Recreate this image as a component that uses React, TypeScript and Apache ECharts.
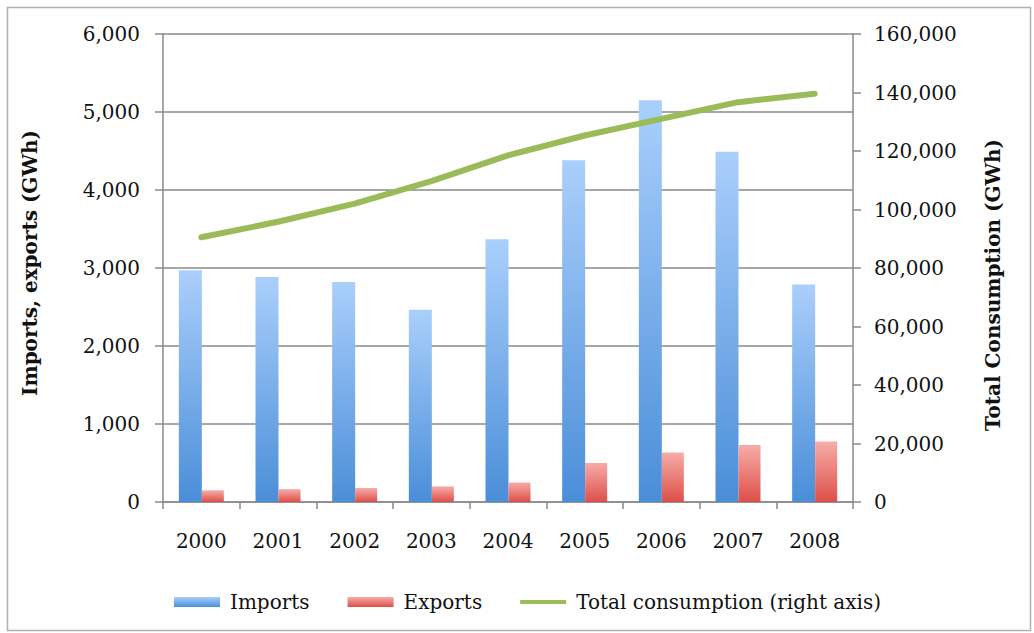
import React, { useEffect, useRef } from "react";
import * as echarts from "echarts";

const years = ["2000", "2001", "2002", "2003", "2004", "2005", "2006", "2007", "2008"];
const imports = [2970, 2885, 2820, 2465, 3370, 4380, 5150, 4490, 2790];
const exports_ = [150, 165, 180, 200, 250, 500, 635, 730, 775];
const totalConsumption = [90500, 95800, 102000, 109700, 118500, 125300, 131000, 136700, 139600];

const FONT = "DejaVu Serif";

export default function App() {
  const ref = useRef<HTMLDivElement>(null);
  useEffect(() => {
    document.body.style.margin = "0";
    const chart = echarts.init(ref.current!, null, { renderer: "svg" });
    const axisGray = "#8a8a8a";
    chart.setOption({
      animation: false,
      backgroundColor: "#ffffff",
      textStyle: { fontFamily: FONT },
      grid: { left: 163, right: 181, top: 34, bottom: 131, containLabel: false },
      legend: {
        bottom: 16,
        left: 169,
        itemWidth: 46,
        itemHeight: 10,
        itemGap: 38,
        textStyle: { fontFamily: FONT, fontSize: 20, color: "#111", padding: [0, 0, 0, 5] },
        data: [
          { name: "Imports", icon: "rect" },
          { name: "Exports", icon: "rect" },
          { name: "Total consumption (right axis)", icon: "path://M0,0 L46,0 L46,4 L0,4 Z" },
        ],
      },
      graphic: [
        {
          type: "rect",
          shape: { x: 7.5, y: 7.5, width: 1023, height: 623 },
          style: { fill: "none", stroke: "#b0b0b0", lineWidth: 1.5 },
          silent: true,
        },
        {
          type: "text",
          x: 30,
          y: 263,
          rotation: Math.PI / 2,
          style: {
            text: "Imports, exports (GWh)",
            fontFamily: FONT,
            fontWeight: "bold",
            fontSize: 20,
            fill: "#111",
            align: "center",
            verticalAlign: "middle",
          },
        },
        {
          type: "text",
          x: 993,
          y: 285,
          rotation: Math.PI / 2,
          style: {
            text: "Total Consumption (GWh)",
            fontFamily: FONT,
            fontWeight: "bold",
            fontSize: 20,
            fill: "#111",
            align: "center",
            verticalAlign: "middle",
          },
        },
      ],
      xAxis: {
        type: "category",
        data: years,
        boundaryGap: true,
        axisLine: { lineStyle: { color: axisGray, width: 1.5 } },
        axisTick: { show: true, length: 7, lineStyle: { color: axisGray, width: 1.5 } },
        axisLabel: { fontFamily: FONT, fontSize: 20, color: "#111", margin: 29 },
      },
      yAxis: [
        {
          type: "value",
          min: 0,
          max: 6000,
          interval: 1000,
          axisLine: { show: true, lineStyle: { color: axisGray, width: 1.5 } },
          axisTick: { show: true, length: 8, lineStyle: { color: axisGray, width: 1.5 } },
          splitLine: { show: true, lineStyle: { color: axisGray, width: 1.5 } },
          axisLabel: {
            fontFamily: FONT,
            fontSize: 20,
            color: "#111",
            margin: 23,
            formatter: (v: number) => v.toLocaleString("en-US"),
          },
        },
        {
          type: "value",
          min: 0,
          max: 160000,
          interval: 20000,
          position: "right",
          axisLine: { show: true, lineStyle: { color: axisGray, width: 1.5 } },
          axisTick: { show: true, length: 8, lineStyle: { color: axisGray, width: 1.5 } },
          splitLine: { show: false },
          axisLabel: {
            fontFamily: FONT,
            fontSize: 20,
            color: "#111",
            margin: 21,
            formatter: (v: number) => v.toLocaleString("en-US"),
          },
        },
      ],
      series: [
        {
          name: "Imports",
          type: "bar",
          data: imports,
          barWidth: 23,
          barGap: "0%",
          itemStyle: {
            color: new echarts.graphic.LinearGradient(0, 0, 0, 1, [
              { offset: 0, color: "#aacffc" },
              { offset: 1, color: "#4a8ed8" },
            ]),
          },
        },
        {
          name: "Exports",
          type: "bar",
          data: exports_,
          barWidth: 22,
          itemStyle: {
            color: new echarts.graphic.LinearGradient(0, 0, 0, 1, [
              { offset: 0, color: "#f7aca8" },
              { offset: 1, color: "#dd4f49" },
            ]),
          },
        },
        {
          name: "Total consumption (right axis)",
          type: "line",
          yAxisIndex: 1,
          data: totalConsumption,
          symbol: "none",
          lineStyle: { color: "#9bbb59", width: 6, cap: "round", join: "round" },
          itemStyle: { color: "#9bbb59" },
        },
      ],
    });
    return () => chart.dispose();
  }, []);
  return <div ref={ref} style={{ width: 1034, height: 633 }} />;
}
